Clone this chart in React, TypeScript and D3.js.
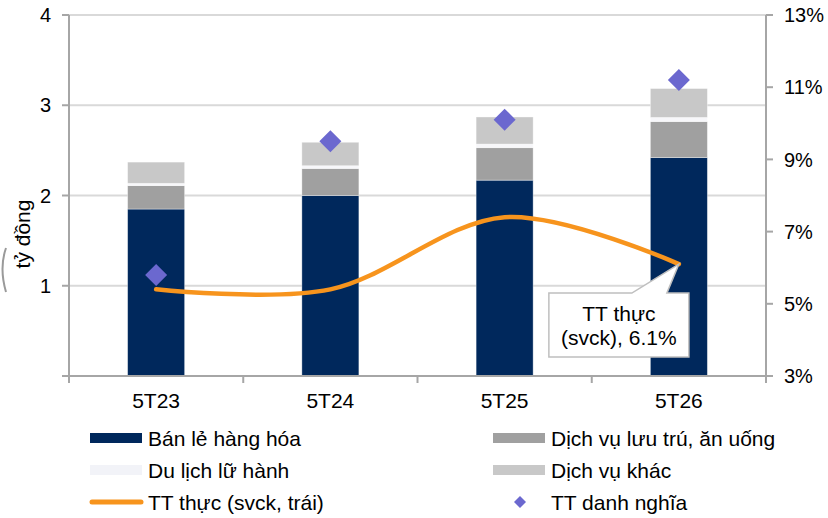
import * as React from 'react';
import * as d3 from 'd3';

const categories = ['5T23', '5T24', '5T25', '5T26'];
const banLe = [1.85, 2.0, 2.17, 2.42];
const luuTru = [0.26, 0.3, 0.36, 0.4];
const duLich = [0.025, 0.03, 0.04, 0.045];
const dvKhac = [0.235, 0.26, 0.3, 0.32];
const ttDanhNghia = [5.8, 9.5, 10.1, 11.2];
const ttThuc = [5.4, 5.4, 7.4, 6.1];
const leftTicks = [1, 2, 3, 4];
const rightTicks = [3, 5, 7, 9, 11, 13];

const width = 828;
const height = 518;
const FONT = 'Liberation Sans, Arial, sans-serif';

const App: React.FC = () => {
  const svgRef = React.useRef(null);

  React.useEffect(() => {
    const svg = d3.select(svgRef.current);
    svg.selectAll('*').remove();

    const left = 69, right = 766, top = 15, bottom = 376;
    const x = d3.scaleBand().domain(categories).range([left, right]).paddingInner(0);
    const yL = d3.scaleLinear().domain([0, 4]).range([bottom, top]);
    const yR = d3.scaleLinear().domain([3, 13]).range([bottom, top]);
    const cx = (c: string) => (x(c) as number) + x.bandwidth() / 2;
    const barW = 57;

    // gridlines
    svg.append('g')
      .selectAll('line')
      .data(leftTicks)
      .enter().append('line')
      .attr('x1', left).attr('x2', right)
      .attr('y1', d => yL(d)).attr('y2', d => yL(d))
      .attr('stroke', '#d9d9d9').attr('stroke-width', 2);

    // stacked bars
    const series = [
      { name: 'Bán lẻ hàng hóa', values: banLe, color: '#00285c' },
      { name: 'Dịch vụ lưu trú, ăn uống', values: luuTru, color: '#a0a0a0' },
      { name: 'Du lịch lữ hành', values: duLich, color: '#f7f7fa' },
      { name: 'Dịch vụ khác', values: dvKhac, color: '#c8c8c8' },
    ];
    const rows = categories.map((c, i) => {
      const r: any = { cat: c };
      series.forEach(s => { r[s.name] = s.values[i]; });
      return r;
    });
    const stacked = d3.stack().keys(series.map(s => s.name))(rows);
    stacked.forEach((layer, li) => {
      svg.append('g')
        .selectAll('rect')
        .data(layer)
        .enter().append('rect')
        .attr('x', d => cx(d.data.cat) - barW / 2)
        .attr('width', barW)
        .attr('y', d => yL(d[1]))
        .attr('height', d => yL(d[0]) - yL(d[1]))
        .attr('fill', series[li].color)
        .attr('stroke', 'rgba(255,255,255,0.45)')
        .attr('stroke-width', 0.8);
    });

    // axes lines
    const axisColor = '#a6a6a6';
    svg.append('line').attr('x1', left).attr('x2', left).attr('y1', top).attr('y2', bottom + 7)
      .attr('stroke', axisColor).attr('stroke-width', 2);
    svg.append('line').attr('x1', right).attr('x2', right).attr('y1', top).attr('y2', bottom + 7)
      .attr('stroke', axisColor).attr('stroke-width', 2);
    svg.append('line').attr('x1', left - 7).attr('x2', right + 7).attr('y1', bottom).attr('y2', bottom)
      .attr('stroke', axisColor).attr('stroke-width', 2);

    // left ticks
    svg.append('g').selectAll('line').data([0, ...leftTicks]).enter().append('line')
      .attr('x1', left - 7).attr('x2', left)
      .attr('y1', d => yL(d)).attr('y2', d => yL(d))
      .attr('stroke', axisColor).attr('stroke-width', 2);
    svg.append('g').selectAll('text').data(leftTicks).enter().append('text')
      .attr('x', 51).attr('y', d => yL(d)).attr('dy', '0.36em')
      .attr('text-anchor', 'end')
      .attr('font-family', FONT).attr('font-size', 20).attr('fill', '#000')
      .text(d => d);

    // right ticks
    svg.append('g').selectAll('line').data(rightTicks).enter().append('line')
      .attr('x1', right).attr('x2', right + 7)
      .attr('y1', d => yR(d)).attr('y2', d => yR(d))
      .attr('stroke', axisColor).attr('stroke-width', 2);
    svg.append('g').selectAll('text').data(rightTicks).enter().append('text')
      .attr('x', 784).attr('y', d => yR(d)).attr('dy', '0.36em')
      .attr('font-family', FONT).attr('font-size', 20).attr('fill', '#000')
      .text(d => d + '%');

    // x ticks
    const bounds = [...categories.map(c => x(c) as number), right];
    svg.append('g').selectAll('line').data(bounds).enter().append('line')
      .attr('x1', d => d).attr('x2', d => d)
      .attr('y1', bottom).attr('y2', bottom + 7)
      .attr('stroke', axisColor).attr('stroke-width', 2);
    svg.append('g').selectAll('text').data(categories).enter().append('text')
      .attr('x', d => cx(d)).attr('y', 408)
      .attr('text-anchor', 'middle')
      .attr('font-family', FONT).attr('font-size', 21).attr('fill', '#000')
      .text(d => d);

    // y axis title
    svg.append('text')
      .attr('transform', 'translate(30,234) rotate(-90)')
      .attr('text-anchor', 'middle')
      .attr('font-family', FONT).attr('font-size', 21).attr('fill', '#000')
      .text('tỷ đồng');
    svg.append('path')
      .attr('d', 'M6,248 Q-1,268 6,292')
      .attr('fill', 'none').attr('stroke', '#9a9a9a').attr('stroke-width', 2);

    // real growth line
    const line = d3.line<number>()
      .x((d, i) => cx(categories[i]))
      .y(d => yR(d))
      .curve(d3.curveCardinal.tension(0));
    svg.append('path')
      .attr('d', line(ttThuc) as string)
      .attr('fill', 'none')
      .attr('stroke', '#f7941d')
      .attr('stroke-width', 4.5)
      .attr('stroke-linecap', 'round');

    // nominal growth diamonds
    const diamond = (px: number, py: number, r: number) =>
      `M${px},${py - r}L${px + r},${py}L${px},${py + r}L${px - r},${py}Z`;
    svg.append('g').selectAll('path').data(ttDanhNghia).enter().append('path')
      .attr('d', (d, i) => diamond(cx(categories[i]), yR(d), 11))
      .attr('fill', '#6b68cf');

    // callout
    const last = ttThuc.length - 1;
    const ax = cx(categories[last]);
    const ay = yR(ttThuc[last]);
    const bx = ax - 130, by = ay + 29, bw = 140, bh = 64;
    svg.append('path')
      .attr('d', `M${bx},${by}H${ax - 47}L${ax},${ay}L${ax - 12},${by}H${bx + bw}V${by + bh}H${bx}Z`)
      .attr('fill', '#fff')
      .attr('stroke', '#bfbfbf')
      .attr('stroke-width', 1.5);
    svg.append('text')
      .attr('x', bx + bw / 2).attr('y', by + 28)
      .attr('text-anchor', 'middle')
      .attr('font-family', FONT).attr('font-size', 21).attr('fill', '#000')
      .text('TT thực');
    svg.append('text')
      .attr('x', bx + bw / 2).attr('y', by + 52)
      .attr('text-anchor', 'middle')
      .attr('font-family', FONT).attr('font-size', 21).attr('fill', '#000')
      .text('(svck), 6.1%');

    // legend
    const legend = [
      { label: series[0].name, color: series[0].color, kind: 'rect', col: 0, row: 0 },
      { label: series[1].name, color: series[1].color, kind: 'rect', col: 1, row: 0 },
      { label: series[2].name, color: '#f2f3f8', kind: 'rect', col: 0, row: 1 },
      { label: series[3].name, color: series[3].color, kind: 'rect', col: 1, row: 1 },
      { label: 'TT thực (svck, trái)', color: '#f7941d', kind: 'line', col: 0, row: 2 },
      { label: 'TT danh nghĩa', color: '#6b68cf', kind: 'diamond', col: 1, row: 2 },
    ];
    const colX = [90, 493];
    const rowY = [438, 470, 502];
    const lg = svg.append('g');
    legend.forEach(l => {
      const lx = colX[l.col];
      const ly = rowY[l.row];
      if (l.kind === 'rect') {
        lg.append('rect').attr('x', lx).attr('y', ly - 5).attr('width', 52).attr('height', 10).attr('fill', l.color);
      } else if (l.kind === 'line') {
        lg.append('line').attr('x1', lx + 2).attr('x2', lx + 51).attr('y1', ly).attr('y2', ly)
          .attr('stroke', l.color).attr('stroke-width', 5).attr('stroke-linecap', 'round');
      } else {
        lg.append('path').attr('d', diamond(lx + 27, ly, 6)).attr('fill', l.color);
      }
      lg.append('text')
        .attr('x', lx + 58).attr('y', ly).attr('dy', '0.36em')
        .attr('font-family', FONT).attr('font-size', 21).attr('fill', '#000')
        .text(l.label);
    });
  }, []);

  return (
    <svg ref={svgRef} width={width} height={height}
      style={{ position: 'absolute', left: 0, top: 0, background: '#fff' }}></svg>
  );
};

export default App;
